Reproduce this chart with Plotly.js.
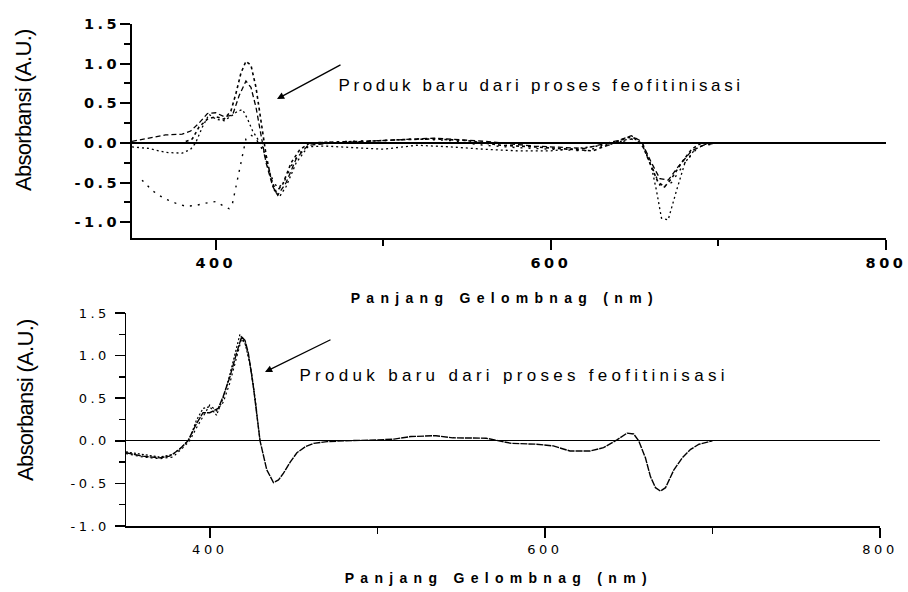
<!DOCTYPE html>
<html><head><meta charset="utf-8">
<script src="https://cdn.plot.ly/plotly-3.0.1.min.js"></script>
<style>
body{margin:0;background:#fff}
g.annotation[data-index="0"] text, g.annotation[data-index="1"] text {letter-spacing:6.3px}
g.annotation[data-index="2"] text, g.annotation[data-index="3"] text {letter-spacing:-0.7px}
g.annotation[data-index="4"] text {letter-spacing:3.65px}
g.annotation[data-index="5"] text {letter-spacing:4.3px}
g.xtick text, g.ytick text, g.x2tick text, g.y2tick text {letter-spacing:3.5px}
</style></head>
<body>
<div id="chart" style="width:908px;height:592px"></div>
<script>
// ---------- data (top panel) ----------
const t1_nm = [350,360,370,380,386,390,395,400,405,409,412,415,418,421,424,427,430,433,436,440,445,450,456,470,490,510,530,550,570,590,610,625,640,646,650,655,660,664,668,672,678,684,690,700];
const t1_ab = [0.0,0.0,0.0,0.0,0.05,0.2,0.3,0.33,0.3,0.4,0.62,0.88,1.03,0.98,0.7,0.25,-0.15,-0.45,-0.62,-0.52,-0.25,-0.09,0.0,0.01,0.02,0.04,0.05,0.03,-0.03,-0.05,-0.08,-0.1,0.02,0.07,0.06,-0.05,-0.3,-0.5,-0.55,-0.45,-0.25,-0.08,0.0,0.0];

const t2_nm = [350,360,370,380,385,390,395,400,405,410,414,418,421,424,427,430,434,437,442,448,455,470,500,530,560,590,620,640,648,654,660,665,670,676,684,692,700];
const t2_ab = [0.02,0.06,0.1,0.11,0.15,0.25,0.37,0.38,0.33,0.35,0.6,0.78,0.7,0.45,0.1,-0.25,-0.55,-0.66,-0.5,-0.2,-0.03,0.0,0.03,0.06,0.02,-0.04,-0.07,0.03,0.09,0.02,-0.25,-0.45,-0.47,-0.3,-0.1,-0.02,0.0];

const t3_nm = [350,360,370,380,385,388,392,396,400,405,410,413,416,419,422,425,428,431,435,438,442,448,455,465,480,500,520,540,560,580,600,620,635,645,650,655,660,663,666,670,675,680,686,692,700,720,740,760,780];
const t3_ab = [-0.05,-0.07,-0.12,-0.13,-0.08,0.0,0.2,0.36,0.3,0.28,0.35,0.4,0.42,0.3,0.15,0.05,-0.05,-0.3,-0.6,-0.68,-0.55,-0.25,-0.05,-0.04,-0.06,-0.08,-0.03,-0.05,-0.08,-0.1,-0.1,-0.06,-0.02,0.04,0.05,-0.02,-0.3,-0.6,-0.95,-0.97,-0.6,-0.25,-0.08,-0.02,0.0,0.0,0.0,0.0,0.0];

const t4_nm = [356,362,369,376,382,388,394,400,405,408,410,412,414,416,418,421,424,427,430,433,437,441,446,452,460,480,500,520,540,560,580,600,620,640,648,654,660,666,672,680,688,700];
const t4_ab = [-0.47,-0.6,-0.7,-0.76,-0.8,-0.79,-0.76,-0.74,-0.8,-0.83,-0.76,-0.55,-0.35,-0.17,0.05,0.1,0.05,-0.05,-0.2,-0.42,-0.58,-0.48,-0.25,-0.08,0.0,0.02,0.03,0.05,0.03,-0.03,-0.06,-0.08,-0.1,0.0,0.05,0.0,-0.3,-0.58,-0.5,-0.25,-0.05,0.0];

// ---------- data (bottom panel) ----------
const b1_nm = [350,360,370,376,382,387,392,396,400,405,408,412,416,419,421,423,426,430,434,438,441,444,448,452,457,462,470,480,500,510,520,535,545,565,580,595,605,615,627,635,643,649,653,656,660,663,666,669,672,677,682,687,692,696,700];
const b1_ab = [-0.14,-0.18,-0.2,-0.18,-0.1,0.0,0.2,0.33,0.33,0.38,0.52,0.75,1.03,1.22,1.18,1.03,0.64,0.0,-0.34,-0.49,-0.46,-0.38,-0.25,-0.14,-0.07,-0.03,-0.01,0.0,0.01,0.02,0.05,0.06,0.035,0.03,-0.03,-0.04,-0.06,-0.12,-0.12,-0.08,0.01,0.09,0.08,0.0,-0.2,-0.42,-0.55,-0.59,-0.55,-0.34,-0.2,-0.1,-0.04,-0.02,0.0];

const b2_nm = [350,360,370,378,384,388,392,396,400,404,408,412,416,418,421,424,427,430];
const b2_ab = [-0.13,-0.16,-0.19,-0.16,-0.06,0.02,0.24,0.38,0.4,0.3,0.5,0.78,1.08,1.25,1.15,0.9,0.5,0.0];

const b3_nm = [350,360,370,378,384,388,392,396,400,404,408,412,416,419,422,425,428];
const b3_ab = [-0.15,-0.19,-0.21,-0.19,-0.08,0.0,0.15,0.28,0.42,0.35,0.45,0.68,0.98,1.2,1.1,0.8,0.35];

// ---------- tick labels ----------
const xTickVals = [400,600,800];
const xTickText = ['400','600','800'];
const xMinor = [500,700];
const yTopVals = [-1.0,-0.5,0.0,0.5,1.0,1.5];
const yTopText = ['-1.0','-0.5','0.0','0.5','1.0','1.5'];
const yBotVals = [-1.0,-0.5,0.0,0.5,1.0,1.5];
const yBotText = ['-1.0','-0.5','0.0','0.5','1.0','1.5'];
const yMinor = [-0.75,-0.25,0.25,0.75,1.25];

const titleX = 'Panjang Gelombnag (nm)';
const titleY = 'Absorbansi (A.U.)';
const note = 'Produk baru dari proses feofitinisasi';

const W = 908, H = 592;
const px = v => v / W, py = v => 1 - v / H;
const FONT = 'Arial, "Liberation Sans", sans-serif';
const TICKFONT = '"DejaVu Sans", Verdana, sans-serif';

function tr(x, y, xa, ya, dash, w) {
  return {x: x, y: y, xaxis: xa, yaxis: ya, type: 'scatter', mode: 'lines',
          line: {color: '#000', dash: dash, width: w}, hoverinfo: 'skip'};
}

const data = [
  tr(t1_nm, t1_ab, 'x', 'y', 'dot', 1.6),
  tr(t2_nm, t2_ab, 'x', 'y', '5px,3px', 1.3),
  tr(t3_nm, t3_ab, 'x', 'y', '2px,3px', 1.3),
  tr(t4_nm, t4_ab, 'x', 'y', '2px,6px', 1.4),
  tr(b1_nm, b1_ab, 'x2', 'y2', '7px,1px', 1.4),
  tr(b2_nm, b2_ab, 'x2', 'y2', '2px,2px', 1.2),
  tr(b3_nm, b3_ab, 'x2', 'y2', '2px,3px', 1.2)
];

function xaxis(domain, anchor, bold, size, lw, standoff) {
  return {domain: domain, anchor: anchor, range: [350, 800], showgrid: false,
    zeroline: false, showline: true, linecolor: '#000', linewidth: lw,
    ticks: 'outside', ticklen: 10, tickwidth: lw, tickcolor: '#000',
    tickmode: 'array', tickvals: xTickVals, ticktext: xTickText,
    ticklabelstandoff: standoff,
    minor: {tickmode: 'array', tickvals: xMinor, ticks: 'outside', ticklen: 6, tickwidth: lw, tickcolor: '#000'},
    tickfont: {family: TICKFONT, size: size, color: '#000', weight: bold ? 'bold' : 'normal'}};
}
function yaxis(domain, anchor, range, vals, text, bold, size, lw, zw, standoff) {
  return {domain: domain, anchor: anchor, range: range, showgrid: false,
    zeroline: true, zerolinecolor: '#000', zerolinewidth: zw,
    showline: true, linecolor: '#000', linewidth: lw,
    ticks: 'outside', ticklen: 10, tickwidth: lw, tickcolor: '#000',
    tickmode: 'array', tickvals: vals, ticktext: text, ticklabelstandoff: standoff,
    minor: {tickmode: 'array', tickvals: yMinor, ticks: 'outside', ticklen: 6, tickwidth: lw, tickcolor: '#000'},
    tickfont: {family: TICKFONT, size: size, color: '#000', weight: bold ? 'bold' : 'normal'}};
}

const layout = {
  width: W, height: H, margin: {l: 0, r: 0, t: 0, b: 0},
  paper_bgcolor: '#fff', plot_bgcolor: '#fff', showlegend: false,
  xaxis: xaxis([px(132), px(886)], 'y', true, 14.5, 2, 1),
  yaxis: yaxis([py(238), py(24)], 'x', [-1.2, 1.5], yTopVals, yTopText, true, 14.5, 2, 2, -3),
  xaxis2: xaxis([px(126), px(880)], 'y2', false, 13, 1.5, 1),
  yaxis2: yaxis([py(526), py(313)], 'x2', [-1.0, 1.5], yBotVals, yBotText, false, 13, 1.5, 1.4, 2),
  annotations: [
    {text: titleX, xref: 'paper', yref: 'paper', x: px(505), y: py(298), showarrow: false,
     xanchor: 'center', yanchor: 'middle', font: {family: FONT, size: 14, weight: 'bold', color: '#000'}},
    {text: titleX, xref: 'paper', yref: 'paper', x: px(499), y: py(578), showarrow: false,
     xanchor: 'center', yanchor: 'middle', font: {family: FONT, size: 14, weight: 'bold', color: '#000'}},
    {text: titleY, xref: 'paper', yref: 'paper', x: px(24), y: py(110), showarrow: false, textangle: -90,
     xanchor: 'center', yanchor: 'middle', font: {family: FONT, size: 22, color: '#000'}},
    {text: titleY, xref: 'paper', yref: 'paper', x: px(25), y: py(400), showarrow: false, textangle: -90,
     xanchor: 'center', yanchor: 'middle', font: {family: FONT, size: 22, color: '#000'}},
    {text: note, xref: 'paper', yref: 'paper', x: px(541), y: py(85), showarrow: false,
     xanchor: 'center', yanchor: 'middle', font: {family: FONT, size: 17, color: '#000'}},
    {text: note, xref: 'paper', yref: 'paper', x: px(514), y: py(375), showarrow: false,
     xanchor: 'center', yanchor: 'middle', font: {family: FONT, size: 17, color: '#000'}},
    {text: '', xref: 'paper', yref: 'paper', x: px(277), y: py(99), showarrow: true,
     ax: 65, ay: -35, arrowhead: 2, arrowsize: 1.1, arrowwidth: 1.3, arrowcolor: '#000', standoff: 0},
    {text: '', xref: 'paper', yref: 'paper', x: px(265), y: py(372), showarrow: true,
     ax: 67, ay: -33, arrowhead: 2, arrowsize: 1.1, arrowwidth: 1.3, arrowcolor: '#000', standoff: 0}
  ]
};

Plotly.newPlot('chart', data, layout, {staticPlot: true, displayModeBar: false});
</script>
</body></html>
